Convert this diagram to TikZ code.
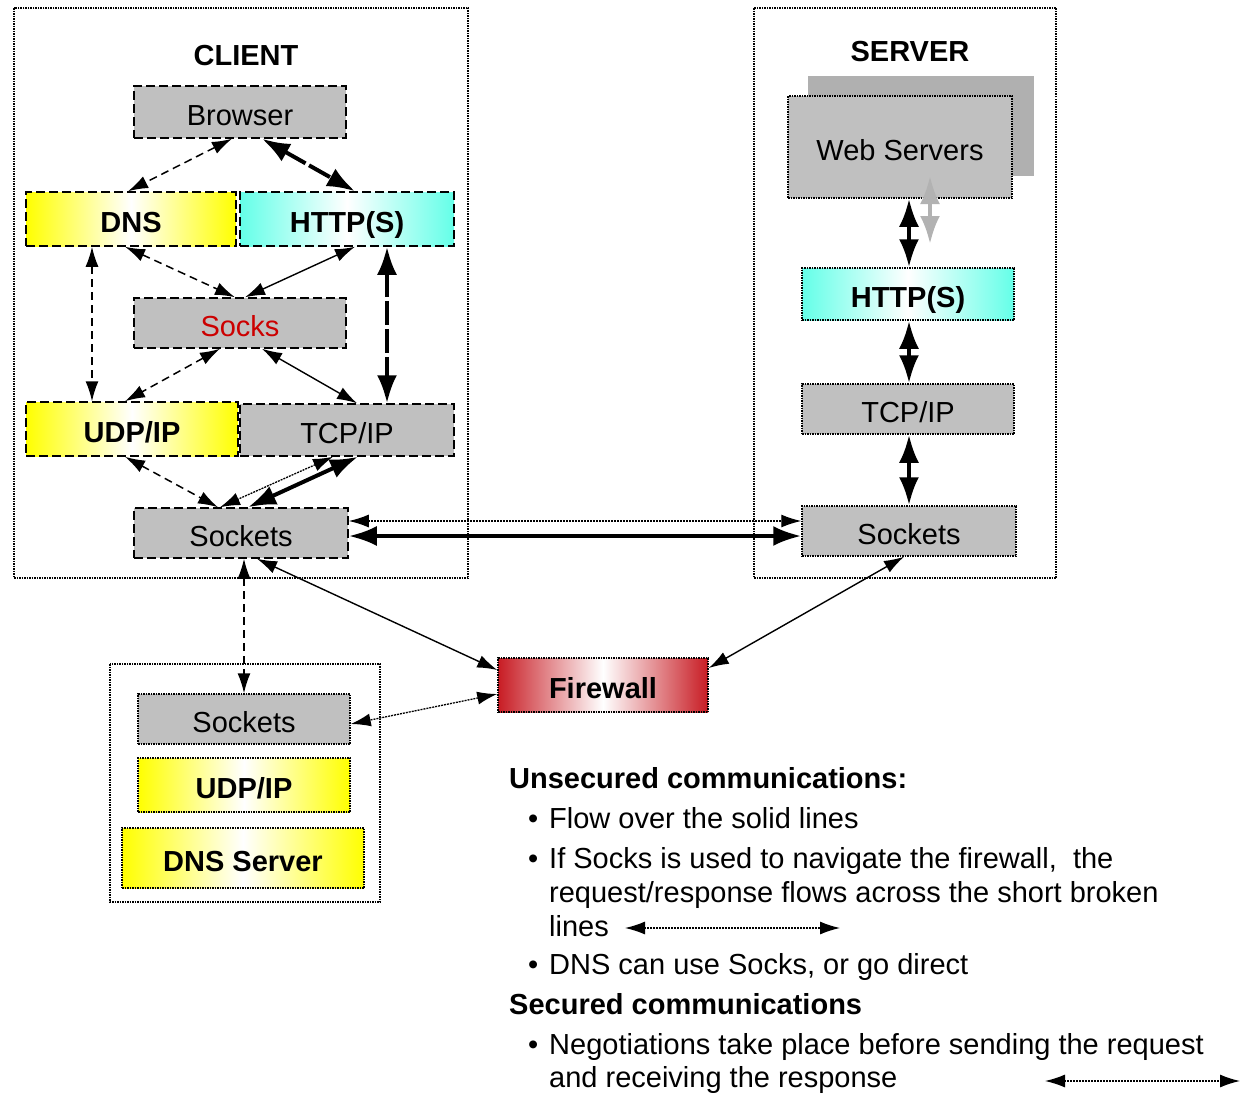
\documentclass[tikz,border=0pt]{standalone}
\usepackage{fontspec}
\setmainfont{Liberation Sans}
\usetikzlibrary{arrows.meta}
\definecolor{boxgray}{RGB}{192,192,192}
\definecolor{shadowgray}{RGB}{176,176,176}
\definecolor{ycol}{RGB}{255,255,0}
\definecolor{ccol}{RGB}{100,255,232}
\definecolor{rcol}{RGB}{200,28,36}
\definecolor{socksred}{RGB}{204,0,0}
\definecolor{lightarr}{RGB}{178,178,178}
\newcommand\fsreg{\fontsize{29}{34}\selectfont}
\newcommand\fsbold{\fontsize{29}{34}\selectfont\bfseries}
\tikzset{
  dbox/.style={draw, dash pattern=on 9pt off 4pt, line width=1.5pt, fill=boxgray, inner sep=0pt, font=\fsreg, text height=27pt, text depth=0pt},
  sbox/.style={draw, dash pattern=on 1.5pt off 1pt, line width=1.5pt, fill=boxgray, inner sep=0pt, font=\fsreg, text height=27pt, text depth=0pt},
  ysh/.style={left color=ycol, right color=ycol, middle color=white, font=\fsbold},
  csh/.style={left color=ccol, right color=ccol, middle color=white, font=\fsbold},
  rsh/.style={left color=rcol, right color=rcol, middle color=white, font=\fsbold},
  outer/.style={draw, dash pattern=on 1.5pt off 1pt, line width=1.3pt},
  title/.style={font=\fsbold, inner sep=0pt},
  dasharr/.style={line width=1.5pt, dash pattern=on 8pt off 5pt, >={Latex[length=20pt,width=13pt]}, <->},
  thinarr/.style={line width=1.4pt, >={Latex[length=20pt,width=13pt]}, <->},
  dotarr/.style={line width=1.3pt, dash pattern=on 2pt off 1pt, >={Latex[length=20pt,width=13pt]}, <->},
  thickarr/.style={line width=4pt, >={Latex[length=28pt,width=20pt]}, <->},
  thickdash/.style={line width=4pt, dash pattern=on 24pt off 4pt, >={Latex[length=28pt,width=20pt]}, <->},
  legend/.style={font=\fsreg, anchor=base west, inner sep=0pt},
  legendb/.style={font=\fsbold, anchor=base west, inner sep=0pt},
}
\begin{document}
\begin{tikzpicture}[x=1pt,y=-1pt]
\useasboundingbox (0,0) rectangle (1242,1093);
% outer boxes
\draw[outer] (14,8) rectangle (468,578);
\draw[outer] (754,8) rectangle (1056,578);
\draw[outer] (110,664) rectangle (380,902);
\node[title] (ctitle) at (246,56) {CLIENT};
\node[title] (stitle) at (910,52) {SERVER};

% client nodes
\node[dbox, minimum width=212pt, minimum height=52pt] (browser) at (240,112) {Browser};
\node[dbox, ysh, minimum width=210pt, minimum height=54pt] (dns) at (131,219) {DNS};
\node[dbox, csh, minimum width=214pt, minimum height=54pt] (http) at (347,219) {HTTP(S)};
\node[dbox, minimum width=212pt, minimum height=50pt, text=socksred] (socks) at (240,323) {Socks};
\node[dbox, ysh, minimum width=212pt, minimum height=54pt] (udp) at (132,429) {UDP/IP};
\node[dbox, minimum width=214pt, minimum height=52pt] (tcp) at (347,430) {TCP/IP};
\node[dbox, minimum width=214pt, minimum height=50pt] (csock) at (241,533) {Sockets};

% server nodes
\fill[shadowgray] (808,76) rectangle (1034,176);
\node[sbox, minimum width=224pt, minimum height=102pt] (web) at (900,147) {Web Servers};
\node[sbox, csh, minimum width=212pt, minimum height=52pt] (shttp) at (908,294) {HTTP(S)};
\node[sbox, minimum width=212pt, minimum height=50pt] (stcp) at (908,409) {TCP/IP};
\node[sbox, minimum width=214pt, minimum height=50pt] (ssock) at (909,531) {Sockets};

% bottom nodes
\node[sbox, minimum width=212pt, minimum height=50pt] (bsock) at (244,719) {Sockets};
\node[sbox, ysh, minimum width=212pt, minimum height=54pt] (budp) at (244,785) {UDP/IP};
\node[sbox, ysh, minimum width=242pt, minimum height=60pt] (bdns) at (243,858) {DNS Server};
\node[sbox, rsh, minimum width=210pt, minimum height=54pt] (fw) at (603,685) {Firewall};

% client arrows
\draw[dasharr] ([xshift=-8pt]browser.south) -- ([xshift=-3pt]dns.north);
\draw[thickdash] ([xshift=22pt]browser.south) -- ([xshift=8pt]http.north);
\draw[dasharr] ([xshift=-6pt]dns.south) -- ([xshift=-5pt]socks.north);
\draw[thinarr] ([xshift=8pt]http.south) -- ([xshift=5pt]socks.north);
\draw[dasharr] ([xshift=-39pt]dns.south) -- ([xshift=-40pt]udp.north);
\draw[thickdash] ([xshift=40pt]http.south) -- ([xshift=40pt]tcp.north);
\draw[dasharr] ([xshift=-20pt]socks.south) -- ([xshift=-7pt]udp.north);
\draw[thinarr] ([xshift=22pt]socks.south) -- ([xshift=10pt]tcp.north);
\draw[dasharr] ([xshift=-7pt]udp.south) -- ([xshift=-23pt]csock.north);
\draw[dotarr] ([xshift=-14pt]tcp.south) -- ([xshift=-21pt]csock.north);
\draw[thickarr] ([xshift=11pt]tcp.south) -- ([xshift=7pt]csock.north);

% client-server
\draw[dotarr] ([yshift=12pt]csock.east) -- ([yshift=10pt]ssock.west);
\draw[thickarr] ([yshift=-3pt]csock.east) -- ([yshift=-5pt]ssock.west);

% firewall and bottom
\draw[dasharr] ([xshift=3pt]csock.south) -- (bsock.north);
\draw[thinarr] ([xshift=16pt]csock.south) -- ([yshift=15pt]fw.west);
\draw[thinarr] ([xshift=-5pt]ssock.south) -- ([yshift=17pt]fw.east);
\draw[dotarr] ([yshift=-9pt]fw.west) -- ([yshift=-5pt]bsock.east);

% server arrows
\coordinate (g1) at (930,176);
\coordinate (g2) at (930,244);
\draw[thickarr, draw=lightarr, fill=lightarr] (g1) -- (g2);
\draw[thickarr] ([xshift=9pt]web.south) -- ([xshift=1pt]shttp.north);
\draw[thickarr] ([xshift=1pt]shttp.south) -- ([xshift=1pt]stcp.north);
\draw[thickarr] ([xshift=1pt]stcp.south) -- (ssock.north);

% legend
\node[legendb] (l1) at (509,788) {Unsecured communications:};
\node[legend] (b1) at (528,828) {•};
\node[legend] (l2) at (549,828) {Flow over the solid lines};
\node[legend] (b2) at (528,868) {•};
\node[legend] (l3) at (549,868) {If Socks is used to navigate the firewall,~ the};
\node[legend] (l4) at (549,902) {request/response flows across the short broken};
\node[legend] (l5) at (549,936) {lines};
\coordinate (la1) at (625,928);
\coordinate (la2) at (840,928);
\draw[dotarr] (la1) -- (la2);
\node[legend] (b3) at (528,974) {•};
\node[legend] (l6) at (549,974) {DNS can use Socks, or go direct};
\node[legendb] (l7) at (509,1014) {Secured communications};
\node[legend] (b4) at (528,1054) {•};
\node[legend] (l8) at (549,1054) {Negotiations take place before sending the request};
\node[legend] (l9) at (549,1087) {and receiving the response};
\coordinate (lb1) at (1045,1081);
\coordinate (lb2) at (1240,1081);
\draw[dotarr] (lb1) -- (lb2);
\end{tikzpicture}
\end{document}
